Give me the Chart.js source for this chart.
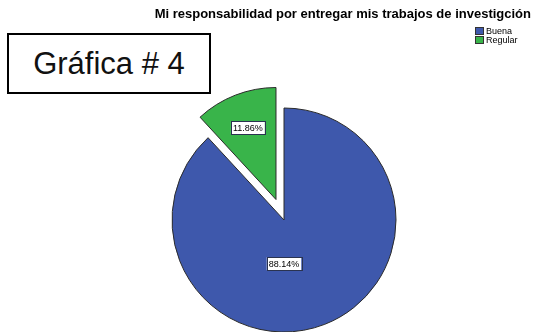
<!DOCTYPE html>
<html>
<head>
<meta charset="utf-8">
<script src="https://cdn.jsdelivr.net/npm/chart.js@4/dist/chart.umd.min.js"></script>
<style>
  body { margin: 0; background: #fff; font-family: 'Liberation Sans', Arial, sans-serif; }
  #wrap { position: relative; width: 534px; height: 332px; overflow: hidden; }
  #pieChart { position: absolute; left: 0; top: 0; }
  #title { position: absolute; right: 3px; top: 6px; font-size: 13px; font-weight: bold; color: #000; white-space: nowrap; }
  #legend { position: absolute; left: 475px; top: 26px; font-size: 9px; color: #000; }
  #legend div { display: flex; align-items: center; height: 9px; }
  #legend span.box { width: 7px; height: 6px; border: 1px solid #333; margin-right: 2px; }
  #tag { position: absolute; left: 7px; top: 33px; width: 200px; height: 57px; border: 2px solid #000;
         display: flex; align-items: center; justify-content: center; font-size: 31px; color: #111; background: #fff; }
</style>
</head>
<body>
<div id="wrap">
  <canvas id="pieChart" width="534" height="332"></canvas>
  <div id="title"></div>
  <div id="legend"></div>
  <div id="tag">Gráfica # 4</div>
</div>
<script>
//Chart data
const chartTitle = 'Mi responsabilidad por entregar mis trabajos de investigción';
const categories = ['Buena', 'Regular'];
const percentages = [88.14, 11.86];
const sliceColors = ['rgb(62, 88, 172)', 'rgb(57, 180, 74)'];

//Title and legend as page text
document.getElementById('title').textContent = chartTitle;
const legendBox = document.getElementById('legend');
categories.forEach((name, i) => {
  const row = document.createElement('div');
  row.innerHTML = `<span class="box" style="background:${sliceColors[i]}"></span>${name}`;
  legendBox.appendChild(row);
});

//Pull the small slice away from the centre (SPSS style explode)
const explodePlugin = {
  id: 'explode',
  afterDatasetUpdate(chart, args) {
    const arcs = args.meta.data;
    arcs.forEach((arc, i) => {
      const amount = chart.data.datasets[0].explode[i] || 0;
      const mid = (arc.startAngle + arc.endAngle) / 2;
      arc.x += Math.cos(mid) * amount;
      arc.y += Math.sin(mid) * amount;
    });
  },
};

//Percent labels in white boxes
const percentLabels = {
  id: 'percentLabels',
  afterDatasetsDraw(chart) {
    const ctx = chart.ctx;
    const arcs = chart.getDatasetMeta(0).data;
    ctx.save();
    ctx.font = '9px "Liberation Sans", Arial, sans-serif';
    ctx.textAlign = 'center';
    ctx.textBaseline = 'middle';
    arcs.forEach((arc, i) => {
      const big = arc.circumference > Math.PI;
      const angle = big ? Math.PI / 2 : (arc.startAngle + arc.endAngle) / 2;
      const dist = arc.outerRadius * (big ? 0.39 : 0.69);
      const x = arc.x + Math.cos(angle) * dist;
      const y = arc.y + Math.sin(angle) * dist;
      const text = percentages[i].toFixed(2) + '%';
      const w = ctx.measureText(text).width + 4;
      ctx.fillStyle = '#fff';
      ctx.fillRect(x - w / 2, y - 6.5, w, 13);
      ctx.strokeStyle = '#2a3350';
      ctx.lineWidth = 1;
      ctx.strokeRect(Math.round(x - w / 2) + 0.5, Math.round(y - 6.5) + 0.5, Math.round(w), 13);
      ctx.fillStyle = '#000';
      ctx.fillText(text, x, y + 0.5);
    });
    ctx.restore();
  },
};

function createChart() {
  const chartContext = document.getElementById('pieChart').getContext('2d');
  return new Chart(chartContext, {
    type: 'pie',
    data: {
      labels: categories,
      datasets: [{
        data: percentages,
        backgroundColor: sliceColors,
        borderColor: '#2b2b2b',
        borderWidth: 1,
        radius: 112,
        explode: [0, 22],
        clip: false,
      }],
    },
    options: {
      responsive: false,
      animation: false,
      events: [],
      layout: { padding: { left: 34, right: 0, top: 108, bottom: 0 } },
      plugins: {
        legend: { display: false },
        title: { display: false },
        tooltip: { enabled: false },
      },
    },
    plugins: [explodePlugin, percentLabels],
  });
}

document.addEventListener('DOMContentLoaded', createChart);
</script>
</body>
</html>
